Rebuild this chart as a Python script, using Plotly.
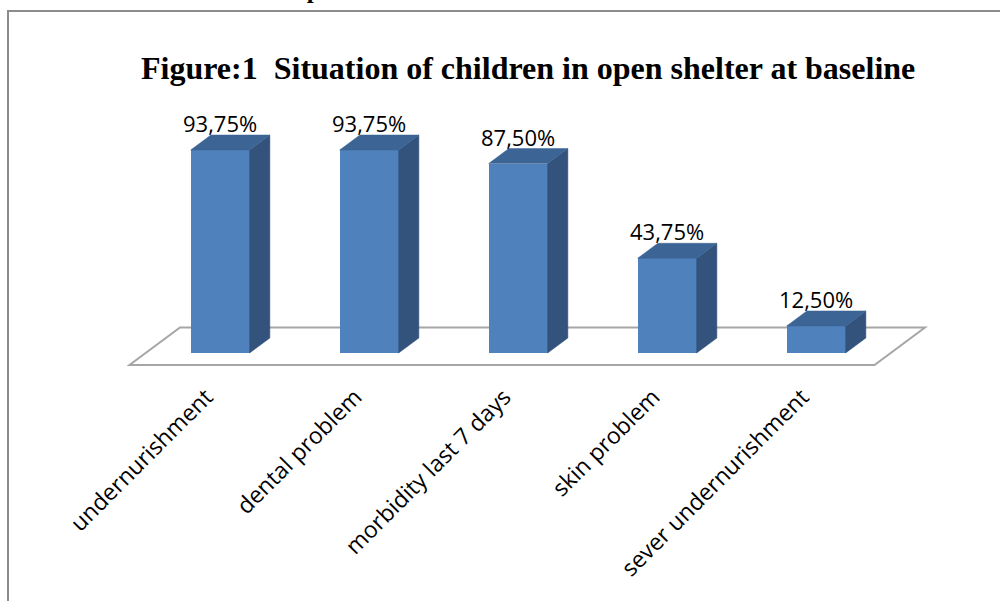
import plotly.graph_objects as go

# ---- data ----
categories = ["undernurishment", "dental problem", "morbidity last 7 days",
              "skin problem", "sever undernurishment"]
values = [93.75, 93.75, 87.50, 43.75, 12.50]
value_labels = ["93,75%", "93,75%", "87,50%", "43,75%", "12,50%"]
title_text = "Figure:1  Situation of children in open shelter at baseline"
cropped_text = "Situation of children in open shelter at baseline"

# ---- layout geometry ----
W, H = 1000, 601
L, R, T, B = 55, 51, 100, 223
PW, PH = W - L - R, H - T - B
XR = [-1.0, 5.0]
PX_PER_Y = 2.165
Y0_PX = 365
y_top = (Y0_PX - T) / PX_PER_Y
y_bot = -((H - B) - Y0_PX) / PX_PER_Y
YR = [y_bot, y_top]
px_per_x = PW / (XR[1] - XR[0])

# depth projection (pixels for full depth) -> data units
DXu = 50.5 / px_per_x
DYu = 37.5 / PX_PER_Y
z0, z1 = 0.32, 0.72
bw = 59 / px_per_x

FRONT = "#4F81BD"
TOP = "#3C6494"
SIDE = "#34537C"


def proj(x, y, z):
    return x + z * DXu, y + z * DYu


fig = go.Figure()
n = len(categories)

# floor (drawn below all traces)
floor_pts = [proj(-0.5, 0, 0), proj(n - 0.5, 0, 0), proj(n - 0.5, 0, 1), proj(-0.5, 0, 1)]
path = "M " + " L ".join(f"{p[0]},{p[1]}" for p in floor_pts) + " Z"
fig.add_shape(type="path", path=path, xref="x", yref="y", layer="below",
              fillcolor="white", line=dict(color="#A6A6A6", width=2))

# bars: front faces via Bar trace
fx = [i + z0 * DXu for i in range(n)]
fig.add_trace(go.Bar(x=fx, y=values, base=[z0 * DYu] * n, width=bw,
                     marker=dict(color=FRONT, line=dict(width=0)), showlegend=False,
                     hoverinfo="skip"))

# side & top faces
for i, v in enumerate(values):
    xr_ = i + bw / 2
    xl_ = i - bw / 2
    side = [proj(xr_, 0, z0), proj(xr_, 0, z1), proj(xr_, v, z1), proj(xr_, v, z0), proj(xr_, 0, z0)]
    top = [proj(xl_, v, z0), proj(xr_, v, z0), proj(xr_, v, z1), proj(xl_, v, z1), proj(xl_, v, z0)]
    fig.add_trace(go.Scatter(x=[p[0] for p in side], y=[p[1] for p in side], mode="lines",
                             fill="toself", fillcolor=SIDE, line=dict(color=SIDE, width=0.5),
                             hoverinfo="skip", showlegend=False))
    fig.add_trace(go.Scatter(x=[p[0] for p in top], y=[p[1] for p in top], mode="lines",
                             fill="toself", fillcolor=TOP, line=dict(color=TOP, width=0.5),
                             hoverinfo="skip", showlegend=False))
    fig.add_annotation(x=fx[i], y=v + z0 * DYu, text=value_labels[i], showarrow=False,
                       xref="x", yref="y", yanchor="middle", xanchor="center", yshift=27,
                       font=dict(family="Open Sans", size=22, color="black"))


def paper_x(px):
    return (px - L) / PW


def paper_y(py):
    return ((H - B) - py) / PH


# frame
fig.add_shape(type="line", xref="paper", yref="paper", x0=paper_x(8), x1=paper_x(8),
              y0=paper_y(10), y1=paper_y(H + 5), line=dict(color="#8C8C8C", width=2))
fig.add_shape(type="line", xref="paper", yref="paper", x0=paper_x(7), x1=paper_x(W + 5),
              y0=paper_y(11), y1=paper_y(11), line=dict(color="#8C8C8C", width=2))

# title
fig.add_annotation(x=paper_x(528), y=paper_y(68), xref="paper", yref="paper",
                   text="<b>" + title_text + "</b>", showarrow=False,
                   xanchor="center", yanchor="middle",
                   font=dict(family="Liberation Serif", size=32, color="black"))
# cropped text at very top
fig.add_annotation(x=paper_x(545), y=paper_y(5), xref="paper", yref="paper",
                   text="<b>" + cropped_text + "</b>", showarrow=False,
                   xanchor="right", yanchor="bottom",
                   font=dict(family="Liberation Serif", size=25, color="black"))

tick_shift = -0.094
fig.update_layout(
    width=W, height=H,
    margin=dict(l=L, r=R, t=T, b=B, pad=0),
    paper_bgcolor="white", plot_bgcolor="white",
    xaxis=dict(range=XR, showgrid=False, zeroline=False, showline=False,
               tickmode="array", tickvals=[x + tick_shift for x in fx], ticktext=categories,
               tickangle=-45, ticks="",
               tickfont=dict(family="Open Sans", size=23, color="black")),
    yaxis=dict(range=YR, visible=False),
    showlegend=False,
    bargap=0,
)

fig.write_html("out.html", config={"displayModeBar": False},
               post_script="document.body.style.margin='0';")
